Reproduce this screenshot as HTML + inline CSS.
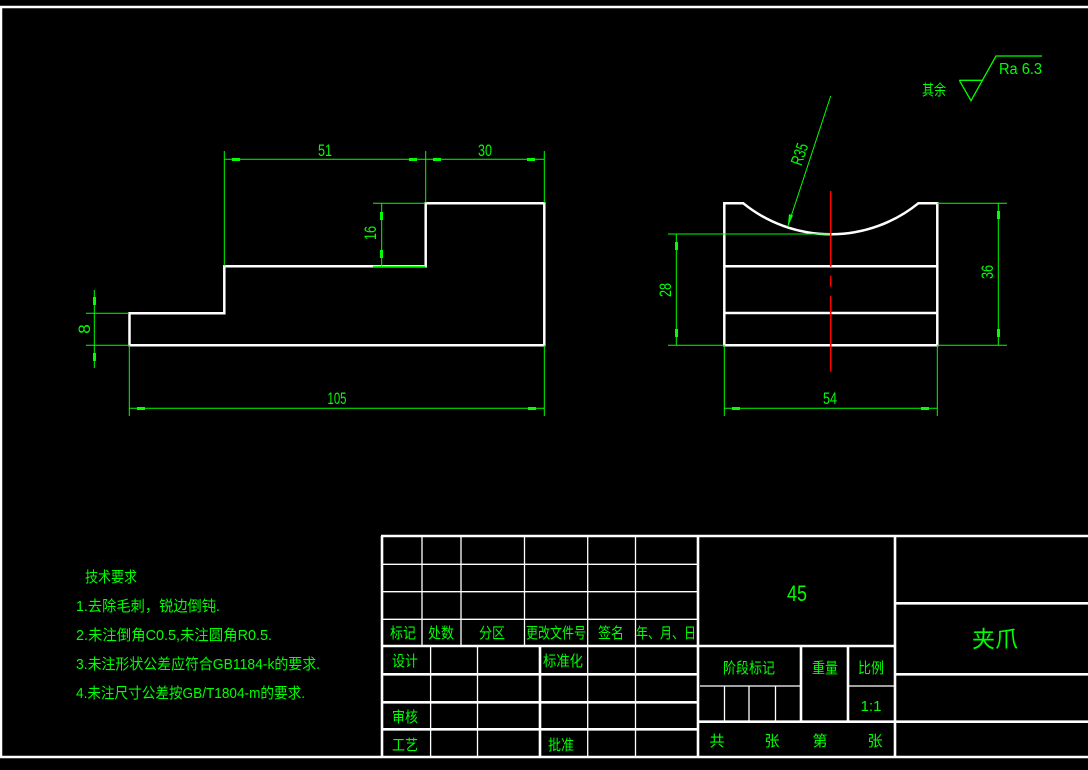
<!DOCTYPE html>
<html><head><meta charset="utf-8"><style>
html,body{margin:0;padding:0;background:#000;}
svg{display:block;}
text{font-family:"Liberation Sans","Noto Sans CJK SC",sans-serif;fill:#00ff00;}
</style></head><body>
<svg width="1088" height="770" viewBox="0 0 1088 770" xmlns="http://www.w3.org/2000/svg">
<rect width="1088" height="770" fill="#000"/>
<!-- frame -->
<g stroke="#fff" stroke-width="2.5" fill="none">
<line x1="0" y1="7" x2="1088" y2="7"/>
<line x1="1" y1="7" x2="1" y2="757"/>
<line x1="0" y1="757" x2="1088" y2="757"/>
</g>
<!-- left view -->
<path d="M129.5 345.3 H544.3 V203.3 H425.7 V266.3 H224.3 V313.3 H129.5 Z" stroke="#fff" stroke-width="2.5" fill="none"/>
<g stroke="#00ff00" stroke-width="1" fill="none">
<line x1="224.3" y1="151" x2="224.3" y2="266"/>
<line x1="425.7" y1="151" x2="425.7" y2="203"/>
<line x1="544.3" y1="151" x2="544.3" y2="203"/>
<line x1="224.3" y1="159.3" x2="544.3" y2="159.3"/>
<line x1="373" y1="203.3" x2="425" y2="203.3"/>
<line x1="373" y1="266.5" x2="425" y2="266.5" stroke-width="1.5"/>
<line x1="381.7" y1="203.3" x2="381.7" y2="266.3"/>
<line x1="94.3" y1="290" x2="94.3" y2="368"/>
<line x1="86" y1="313.3" x2="129" y2="313.3"/>
<line x1="86" y1="345.3" x2="129" y2="345.3"/>
<line x1="129.3" y1="345" x2="129.3" y2="416"/>
<line x1="544.3" y1="345" x2="544.3" y2="416"/>
<line x1="129.3" y1="408.3" x2="544.3" y2="408.3"/>
</g>
<g fill="#00ff00">
<rect x="232" y="158" width="8" height="3"/><rect x="409" y="158" width="8" height="3"/>
<rect x="433" y="158" width="8" height="3"/><rect x="527" y="158" width="8" height="3"/>
<rect x="380" y="212" width="3" height="8"/><rect x="380" y="250" width="3" height="8"/>
<rect x="93" y="297" width="3" height="8"/><rect x="93" y="353" width="3" height="8"/>
<rect x="137" y="407" width="8" height="3"/><rect x="528" y="407" width="8" height="3"/>
</g>
<g font-size="17">
<text x="325" y="156" text-anchor="middle" textLength="14" lengthAdjust="spacingAndGlyphs">51</text>
<text x="485" y="156" text-anchor="middle" textLength="14" lengthAdjust="spacingAndGlyphs">30</text>
<text x="337" y="404" text-anchor="middle" textLength="19" lengthAdjust="spacingAndGlyphs">105</text>
<text transform="translate(376,233) rotate(-90)" text-anchor="middle" textLength="14" lengthAdjust="spacingAndGlyphs">16</text>
<text transform="translate(90,329) rotate(-90)" text-anchor="middle">8</text>
</g>
<!-- right view -->
<g stroke="#fff" stroke-width="2.5" fill="none">
<path d="M724.3 345.3 V203.3 H743.3 A139 139 0 0 0 918.3 203.3 H937.3 V345.3 Z"/>
<line x1="724.3" y1="266.3" x2="937.3" y2="266.3"/>
<line x1="724.3" y1="313" x2="937.3" y2="313"/>
</g>
<g stroke="#ff0000" stroke-width="1.5">
<line x1="830.7" y1="191" x2="830.7" y2="266.7"/>
<line x1="830.7" y1="275.7" x2="830.7" y2="286.7"/>
<line x1="830.7" y1="296" x2="830.7" y2="371.7"/>
</g>
<g stroke="#00ff00" stroke-width="1" fill="none">
<line x1="830.7" y1="96" x2="787.7" y2="226.7"/>
<line x1="676.3" y1="234" x2="676.3" y2="345.3"/>
<line x1="668" y1="234" x2="830" y2="234"/>
<line x1="668" y1="345.3" x2="724" y2="345.3"/>
<line x1="998.3" y1="203.3" x2="998.3" y2="345.3"/>
<line x1="937" y1="203.3" x2="1007" y2="203.3"/>
<line x1="937" y1="345.3" x2="1007" y2="345.3"/>
<line x1="724.3" y1="345" x2="724.3" y2="416"/>
<line x1="937.3" y1="345" x2="937.3" y2="416"/>
<line x1="724.3" y1="408.3" x2="937.3" y2="408.3"/>
</g>
<g fill="#00ff00">
<polygon points="787.7,226.7 789,214 793,215.5"/>
<rect x="675" y="242" width="3" height="8"/><rect x="675" y="329" width="3" height="8"/>
<rect x="997" y="211" width="3" height="8"/><rect x="997" y="329" width="3" height="8"/>
<rect x="732" y="407" width="8" height="3"/><rect x="921" y="407" width="8" height="3"/>
</g>
<g font-size="17">
<text x="830" y="404" text-anchor="middle" textLength="14" lengthAdjust="spacingAndGlyphs">54</text>
<text transform="translate(671,290) rotate(-90)" text-anchor="middle" textLength="14" lengthAdjust="spacingAndGlyphs">28</text>
<text transform="translate(993,272) rotate(-90)" text-anchor="middle" textLength="14" lengthAdjust="spacingAndGlyphs">36</text>
<text transform="translate(805,156) rotate(-71)" text-anchor="middle" textLength="22" lengthAdjust="spacingAndGlyphs">R35</text>
</g>
<!-- surface symbol -->
<g stroke="#00ff00" stroke-width="1.3" fill="none">
<polyline points="959.3,80.3 982.7,80.3"/>
<polyline points="959.3,80.3 971,100.7 996,56 1042,56"/>
</g>
<text x="922" y="95" font-size="15" textLength="24" lengthAdjust="spacingAndGlyphs">其余</text>
<text x="999" y="74" font-size="16" textLength="43" lengthAdjust="spacingAndGlyphs">Ra 6.3</text>
<!-- tech requirements -->
<g font-size="15">
<text x="85" y="582" textLength="52" lengthAdjust="spacingAndGlyphs">技术要求</text>
<text x="76" y="611" textLength="144" lengthAdjust="spacingAndGlyphs">1.去除毛刺，锐边倒钝.</text>
<text x="76" y="640" textLength="196" lengthAdjust="spacingAndGlyphs">2.未注倒角C0.5,未注圆角R0.5.</text>
<text x="76" y="669" textLength="244" lengthAdjust="spacingAndGlyphs">3.未注形状公差应符合GB1184-k的要求.</text>
<text x="76" y="698" textLength="229" lengthAdjust="spacingAndGlyphs">4.未注尺寸公差按GB/T1804-m的要求.</text>
</g>
<!-- title block -->
<g stroke="#fff" stroke-width="1.3" fill="none">
<line x1="383" y1="564.3" x2="698" y2="564.3"/>
<line x1="383" y1="591.7" x2="698" y2="591.7"/>
<line x1="383" y1="619.3" x2="698" y2="619.3"/>
<line x1="422" y1="537" x2="422" y2="646"/>
<line x1="461" y1="537" x2="461" y2="646"/>
<line x1="524.5" y1="537" x2="524.5" y2="646"/>
<line x1="587.7" y1="537" x2="587.7" y2="757"/>
<line x1="635.5" y1="537" x2="635.5" y2="757"/>
<line x1="430.6" y1="646" x2="430.6" y2="757"/>
<line x1="477.5" y1="646" x2="477.5" y2="757"/>
<line x1="700" y1="686" x2="801" y2="686"/>
<line x1="848" y1="686" x2="895" y2="686"/>
<line x1="724.5" y1="686" x2="724.5" y2="721.7"/>
<line x1="749" y1="686" x2="749" y2="721.7"/>
<line x1="775.5" y1="686" x2="775.5" y2="721.7"/>
</g>
<g stroke="#fff" stroke-width="2.6" fill="none">
<line x1="381" y1="536" x2="1088" y2="536"/>
<line x1="382" y1="536" x2="382" y2="757"/>
<line x1="698" y1="536" x2="698" y2="757"/>
<line x1="895" y1="536" x2="895" y2="757"/>
<line x1="383" y1="646" x2="895" y2="646"/>
<line x1="383" y1="674.3" x2="698" y2="674.3"/>
<line x1="383" y1="702.3" x2="698" y2="702.3"/>
<line x1="383" y1="729.3" x2="698" y2="729.3"/>
<line x1="540" y1="646" x2="540" y2="757"/>
<line x1="801" y1="646" x2="801" y2="721.7"/>
<line x1="848" y1="646" x2="848" y2="721.7"/>
<line x1="698" y1="721.7" x2="1088" y2="721.7"/>
<line x1="895" y1="603.3" x2="1088" y2="603.3"/>
<line x1="895" y1="674.3" x2="1088" y2="674.3"/>
</g>
<g font-size="15" text-anchor="middle">
<text x="403" y="638" textLength="26" lengthAdjust="spacingAndGlyphs">标记</text>
<text x="441" y="638" textLength="26" lengthAdjust="spacingAndGlyphs">处数</text>
<text x="492" y="638" textLength="26" lengthAdjust="spacingAndGlyphs">分区</text>
<text x="556" y="638" textLength="60" lengthAdjust="spacingAndGlyphs">更改文件号</text>
<text x="611" y="638" textLength="26" lengthAdjust="spacingAndGlyphs">签名</text>
<text x="666" y="638" textLength="60" lengthAdjust="spacingAndGlyphs">年、月、日</text>
<text x="405" y="666" textLength="26" lengthAdjust="spacingAndGlyphs">设计</text>
<text x="563" y="666" textLength="40" lengthAdjust="spacingAndGlyphs">标准化</text>
<text x="405" y="722" textLength="26" lengthAdjust="spacingAndGlyphs">审核</text>
<text x="405" y="750" textLength="26" lengthAdjust="spacingAndGlyphs">工艺</text>
<text x="561" y="750" textLength="26" lengthAdjust="spacingAndGlyphs">批准</text>
<text x="749" y="673" textLength="52" lengthAdjust="spacingAndGlyphs">阶段标记</text>
<text x="825" y="673" textLength="26" lengthAdjust="spacingAndGlyphs">重量</text>
<text x="871" y="673" textLength="26" lengthAdjust="spacingAndGlyphs">比例</text>
<text x="871" y="711">1:1</text>
<text x="717" y="746">共</text>
<text x="772" y="746">张</text>
<text x="820" y="746">第</text>
<text x="875" y="746">张</text>
<text x="797" y="601" font-size="22" textLength="20" lengthAdjust="spacingAndGlyphs">45</text>
<text x="995" y="647" font-size="23">夹爪</text>
</g>
</svg>
</body></html>
